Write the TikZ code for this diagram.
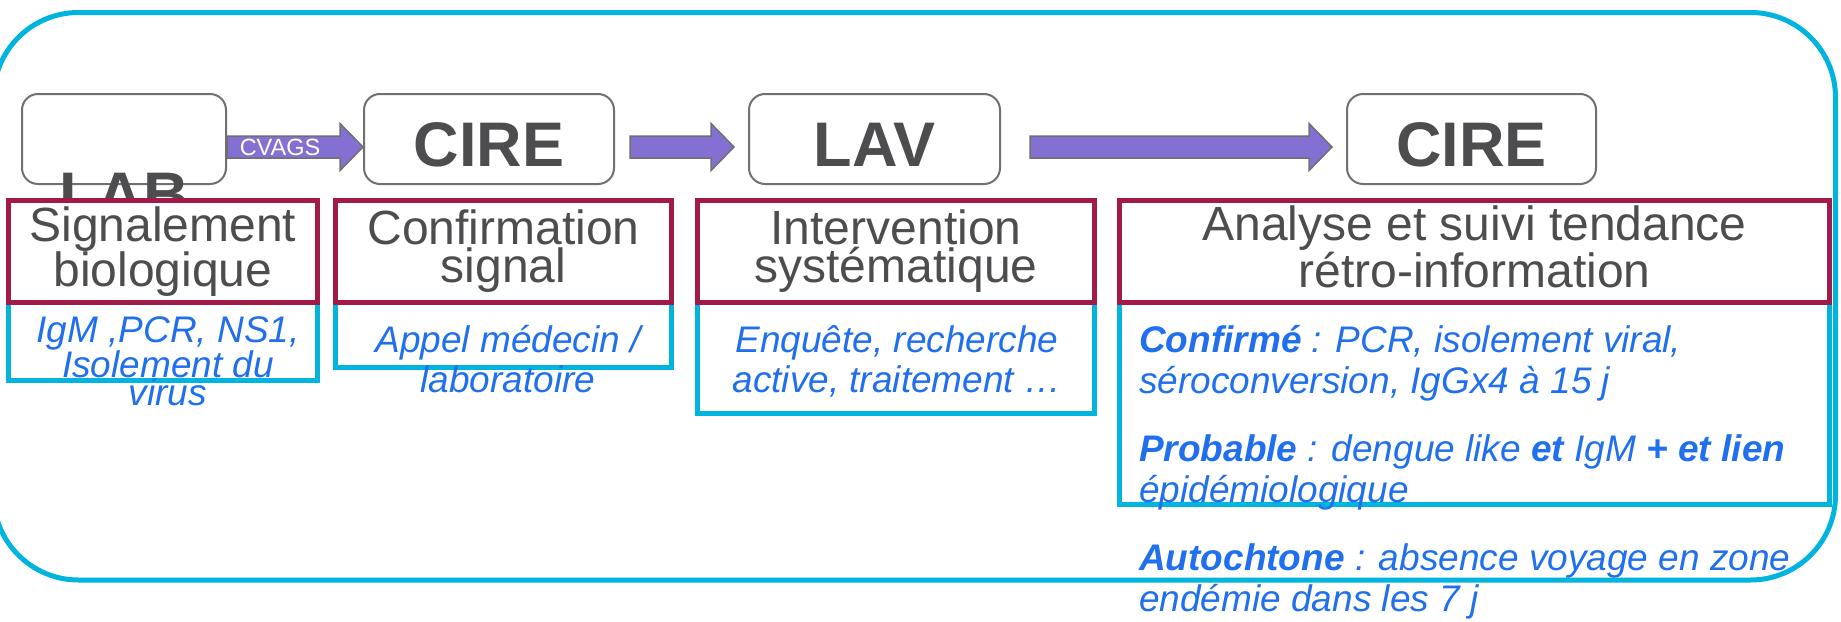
\documentclass[tikz,border=0pt]{standalone}
\usepackage{fontspec}
\setmainfont{Liberation Sans}
\usetikzlibrary{calc}

\definecolor{framecyan}{RGB}{0,180,222}
\definecolor{titlered}{RGB}{162,26,74}
\definecolor{notesblue}{RGB}{31,111,238}
\definecolor{arrowpurple}{RGB}{132,112,210}
\definecolor{labelgray}{RGB}{77,77,79}
\definecolor{boxgray}{RGB}{112,112,112}

\tikzset{
  actorbox/.style={draw=boxgray, line width=2pt, rounded corners=16pt, minimum height=90pt, inner sep=0pt, text height=54pt, text depth=0pt, text=labelgray, font=\fontsize{63}{63}\selectfont\bfseries},
  titlebox/.style={draw=titlered, line width=5pt, minimum height=102pt, fill=white, inner sep=0pt, align=center, text=labelgray, font=\fontsize{48}{38}\selectfont},
  notebox/.style={draw=framecyan, line width=5pt, inner sep=0pt},
  notetext/.style={inner sep=0pt, text=notesblue, align=center, font=\fontsize{37}{40}\selectfont\itshape},
  flowarrow/.style={draw=boxgray, line width=1.5pt, fill=arrowpurple},
}

% block arrow from #1 to the tip #2
\newcommand{\blockarrow}[2]{%
  \draw[flowarrow] ($(#1)+(0,-11)$) -- ($(#2)+(-23,-11)$) -- ($(#2)+(-23,-23.5)$) -- (#2) -- ($(#2)+(-23,23.5)$) -- ($(#2)+(-23,11)$) -- ($(#1)+(0,11)$) -- cycle;}

\begin{document}
\begin{tikzpicture}[x=1pt,y=1pt,yscale=-1,xscale=1]
\useasboundingbox (0,0) rectangle (1841,621);

%Shape: Rounded Rectangle [frame]
\draw[framecyan, line width=5pt, rounded corners=85pt] (-6.5,12.5) rectangle (1835.5,580);

%Shape: Rounded Rectangles [actors]
\node[actorbox, minimum width=204pt] (lab) at (124,139) {};
\node[actorbox, minimum width=250pt] (cire1) at (489,139) {CIRE};
\node[actorbox, minimum width=251pt] (lav) at (874.5,139) {LAV};
\node[actorbox, minimum width=249pt] (cire2) at (1471.5,139) {CIRE};

% Text Node
\node[text=labelgray, font=\fontsize{63}{63}\selectfont\bfseries, inner sep=0pt] (labtext) at (124,194.5) {LAB};

%Block Arrows
\coordinate (s1) at ($(lab.east)+(0,8)$);
\coordinate (e1) at ($(cire1.west)+(0,8)$);
\coordinate (s2) at ($(cire1.east)+(15,8)$);
\coordinate (e2) at ($(lav.west)+(-14,8)$);
\coordinate (s3) at ($(lav.east)+(29,8)$);
\coordinate (e3) at ($(cire2.west)+(-14,8)$);
\blockarrow{s1}{e1}
\blockarrow{s2}{e2}
\blockarrow{s3}{e3}

% Text Node
\node[text=white, font=\fontsize{23.5}{24}\selectfont, inner sep=0pt] (cvags) at ($(s1)!0.39!(e1)$) {CVAGS};

%Shape: Rectangles [notes]
\node[notebox, minimum width=308.5pt, minimum height=78pt] (note1) at (162.75,341.5) {};
\node[notebox, minimum width=336pt, minimum height=65pt] (note2) at (503.5,335) {};
\node[notebox, minimum width=397pt, minimum height=111pt] (note3) at (896,358) {};
\node[notebox, minimum width=710pt, minimum height=202pt] (note4) at (1474.5,403.5) {};

%Shape: Rectangles [titles]
\node[titlebox, minimum width=308.5pt] (title1) at (162.75,251.5) {Signalement\\biologique};
\node[titlebox, minimum width=336pt] (title2) at (503.5,251.5) {Confirmation\\signal};
\node[titlebox, minimum width=397pt] (title3) at (896,251.5) {Intervention\\systématique};
\node[titlebox, minimum width=710pt] (title4) at (1474.5,251.5) {Analyse et suivi tendance\\rétro-information\vphantom{g}};

% Text Node
\node[notetext, font=\fontsize{37}{28}\selectfont\itshape, anchor=north] (text1) at (168,316) {IgM ,PCR, NS1,\\Isolement du\\virus};
% Text Node
\node[notetext, anchor=north] (text2) at (508,324.6) {Appel médecin /\\laboratoire};
% Text Node
\node[notetext, anchor=north] (text3) at (897,325.6) {Enquête, recherche\\active, traitement …};
% Text Node
\node[notetext, align=left, anchor=north west, font=\fontsize{37}{41}\selectfont\itshape] (text4) at (1139,325.5) {\textbf{Confirmé} : PCR, isolement viral,\\séroconversion, IgGx4 à 15 j\\[27pt]\textbf{Probable} : dengue like \textbf{et} IgM \textbf{+ et lien}\\épidémiologique\\[27pt]\textbf{Autochtone} : absence voyage en zone\\endémie dans les 7 j};

\end{tikzpicture}
\end{document}
